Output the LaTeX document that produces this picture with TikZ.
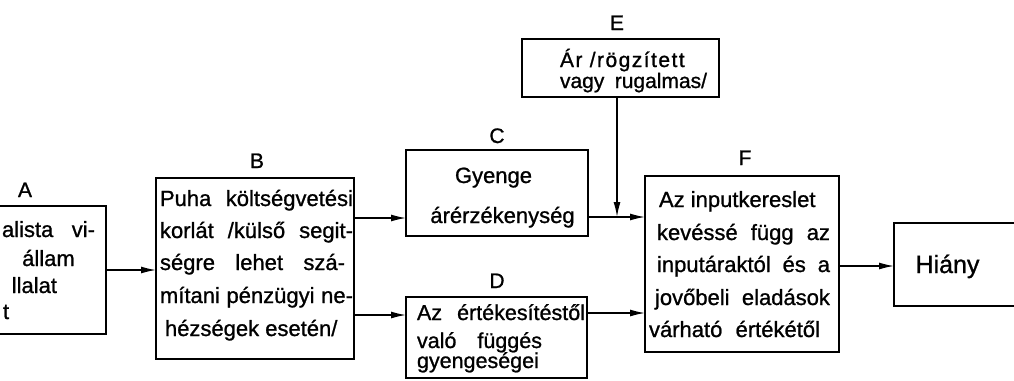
\documentclass[tikz,border=0pt]{standalone}
\usepackage{fontspec}
\setmainfont{Liberation Sans}[FakeBold=1]
\usetikzlibrary{arrows.meta}
\newlength\fitlen
% justify a line: stretch the spaces if the line is short
\newcommand\jline[2]{\settowidth\fitlen{#2}\ifdim\fitlen<#1\relax\makebox[#1][s]{#2}\else#2\fi}
\newcommand\fsLbl{\fontsize{21}{25}\selectfont}
\newcommand\fsA{\fontsize{22}{26}\selectfont}
\newcommand\fsB{\fontsize{22}{26}\selectfont}
\newcommand\fsC{\fontsize{22}{26}\selectfont}
\newcommand\fsD{\fontsize{21.5}{26}\selectfont}
\newcommand\fsE{\fontsize{21}{25}\selectfont}
\newcommand\fsF{\fontsize{22}{26}\selectfont}
\newcommand\fsH{\fontsize{25}{30}\selectfont}
\tikzset{
  box/.style={draw, line width=1.6pt, inner sep=0pt, outer sep=0pt, anchor=north west},
  txt/.style={anchor=base west, inner sep=0pt, outer sep=0pt},
  ctxt/.style={anchor=base, inner sep=0pt, outer sep=0pt},
  lbl/.style={anchor=base, inner sep=0pt, outer sep=0pt, font=\fsLbl},
  arr/.style={line width=1.4pt, -{Latex[length=15pt,width=7pt]}}
}
\begin{document}
\begin{tikzpicture}[x=1pt,y=-1pt]
\useasboundingbox (0,0) rectangle (1014,380);
\clip (0,0) rectangle (1014,380);
% boxes
\node[box, minimum width=116pt, minimum height=128pt] (A) at (-10,206) {};
\node[box, minimum width=198pt, minimum height=181pt] (B) at (156,178) {};
\node[box, minimum width=182pt, minimum height=86pt] (C) at (406,150) {};
\node[box, minimum width=181pt, minimum height=81pt] (D) at (406,297) {};
\node[box, minimum width=197pt, minimum height=58pt] (E) at (522,39) {};
\node[box, minimum width=194pt, minimum height=176pt] (F) at (645,176) {};
\node[box, minimum width=140pt, minimum height=83pt] (H) at (894,223) {};
% labels
\node[lbl] (lA) at (25,197) {A};
\node[lbl] (lB) at (257,168) {B};
\node[lbl] (lC) at (497,143) {C};
\node[lbl] (lD) at (497,288) {D};
\node[lbl] (lE) at (617,30) {E};
\node[lbl] (lF) at (745,165) {F};
% A text
\node[txt, font=\fsA] (a1) at (2,237) {\jline{93pt}{alista vi-}};
\node[ctxt, font=\fsA] (a2) at (48.5,266) {állam};
\node[ctxt, font=\fsA, anchor=base east] (a3) at (57,293) {llalat};
\node[txt, font=\fsA] (a4) at (3,319) {t};
% B text
\node[txt, font=\fsB] (b1) at (160,206) {\jline{193pt}{Puha költségvetési}};
\node[txt, font=\fsB] (b2) at (160,238) {\jline{193pt}{korlát /külső segit-}};
\node[txt, font=\fsB] (b3) at (160,270) {\jline{185pt}{ségre lehet szá-}};
\node[txt, font=\fsB] (b4) at (160,303) {\jline{193pt}{mítani pénzügyi ne-}};
\node[txt, font=\fsB] (b5) at (165,336) {\jline{168pt}{hézségek esetén/}};
% C text
\node[ctxt, font=\fsC] (c1) at (493.5,183) {Gyenge};
\node[ctxt, font=\fsC] (c2) at (502.5,223) {árérzékenység};
% D text
\node[txt, font=\fsD] (d1) at (417,320) {\jline{168pt}{Az értékesítéstől}};
\node[txt, font=\fsD] (d2) at (417,348) {\jline{125pt}{való függés}};
\node[txt, font=\fsD] (d3) at (417,368) {gyengeségei};
% E text
\node[txt, font=\fsE] (e1) at (560,67) {\addfontfeatures{LetterSpace=7}Ár /rögzített};
\node[txt, font=\fsE] (e2) at (560,88) {\jline{147pt}{vagy rugalmas/}};
% F text
\node[txt, font=\fsF] (f1) at (659,207) {\jline{154pt}{Az inputkereslet}};
\node[txt, font=\fsF] (f2) at (657,240) {\jline{173pt}{kevéssé függ az}};
\node[txt, font=\fsF] (f3) at (657,272) {\jline{173pt}{inputáraktól és a}};
\node[txt, font=\fsF] (f4) at (655,305) {\jline{175pt}{jovőbeli eladások}};
\node[txt, font=\fsF] (f5) at (649,337) {\jline{171pt}{várható értékétől}};
% Hiany text
\node[ctxt, font=\fsH] (h1) at (947.5,273) {Hiány};
% connector levels
\coordinate (yAB) at (0,270);
\coordinate (yBC) at (0,218);
\coordinate (yBD) at (0,315);
\coordinate (yCF) at (0,217);
\coordinate (yDF) at (0,313);
\coordinate (yFH) at (0,266);
\coordinate (j) at (617,217);
% connectors
\draw[arr] (A.east |- yAB) -- (B.west |- yAB);
\draw[arr] (B.east |- yBC) -- (C.west |- yBC);
\draw[arr] (B.east |- yBD) -- (D.west |- yBD);
\draw[arr] (C.east |- yCF) -- (F.west |- yCF);
\draw[arr] (E.south -| j) -- (j);
\draw[arr] (D.east |- yDF) -- (F.west |- yDF);
\draw[arr] (F.east |- yFH) -- (H.west |- yFH);
\end{tikzpicture}
\end{document}
